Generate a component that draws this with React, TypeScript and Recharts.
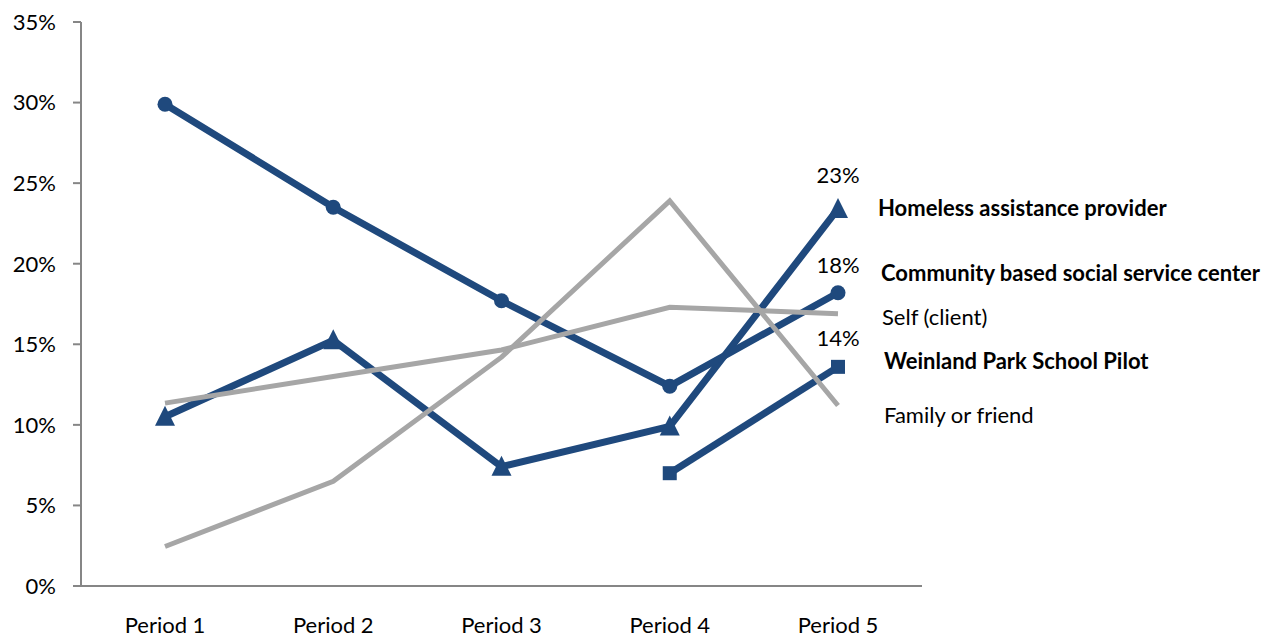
import React from 'react';
import { LineChart, Line, XAxis, YAxis, LabelList } from 'recharts';

const periods = ['Period 1', 'Period 2', 'Period 3', 'Period 4', 'Period 5'];

const homeless = [10.5, 15.25, 7.4, 9.9, 23.4];
const community = [29.9, 23.5, 17.7, 12.4, 18.2];
const selfClient = [11.35, 13.0, 14.65, 17.3, 16.9];
const weinland = [null, null, null, 7.0, 13.6];
const family = [2.45, 6.5, 14.2, 23.9, 11.2];

const yTicks = [0, 5, 10, 15, 20, 25, 30, 35];

const BLUE = '#1F497D';
const GRAY = '#A6A6A6';
const AXIS = '#868686';
const FONT = 'Lato, "Open Sans", sans-serif';

type Shape = 'circle' | 'triangle' | 'square' | 'none';

interface SeriesDef {
  key: string;
  name: string;
  color: string;
  width: number;
  shape: Shape;
  bold: boolean;
  showValue: boolean;
  // label offsets relative to the last point
  nameDx: number;
  nameDy: number;
  valueDy: number;
}

const series: SeriesDef[] = [
  { key: 'homeless', name: 'Homeless assistance provider', color: BLUE, width: 7, shape: 'triangle', bold: true, showValue: true, nameDx: 40, nameDy: 7, valueDy: -26 },
  { key: 'community', name: 'Community based social service center', color: BLUE, width: 7, shape: 'circle', bold: true, showValue: true, nameDx: 43, nameDy: -12, valueDy: -20 },
  { key: 'weinland', name: 'Weinland Park School Pilot', color: BLUE, width: 7, shape: 'square', bold: true, showValue: true, nameDx: 46, nameDy: 2, valueDy: -21 },
  { key: 'self', name: 'Self (client)', color: GRAY, width: 5, shape: 'none', bold: false, showValue: false, nameDx: 44, nameDy: 11, valueDy: 0 },
  { key: 'family', name: 'Family or friend', color: GRAY, width: 5, shape: 'none', bold: false, showValue: false, nameDx: 46, nameDy: 17, valueDy: 0 },
];

const data = periods.map((p, i) => ({
  period: p,
  homeless: homeless[i],
  community: community[i],
  self: selfClient[i],
  weinland: weinland[i],
  family: family[i],
}));

const makeDot = (shape: Shape, color: string) => (props: any) => {
  const { cx, cy, index, value } = props;
  if (value == null || cx == null || cy == null) return <g key={index} />;
  if (shape === 'circle') {
    return <circle key={index} cx={cx} cy={cy} r={7.5} fill={color} />;
  }
  if (shape === 'square') {
    return <rect key={index} x={cx - 7} y={cy - 7} width={14} height={14} fill={color} />;
  }
  if (shape === 'triangle') {
    const s = 10;
    return (
      <polygon
        key={index}
        points={`${cx},${cy - s - 1} ${cx + s},${cy + s - 1} ${cx - s},${cy + s - 1}`}
        fill={color}
      />
    );
  }
  return <g key={index} />;
};

const makeLabel = (s: SeriesDef) => (props: any) => {
  const { x, y, index, value } = props;
  if (index !== periods.length - 1 || value == null) return null;
  return (
    <g>
      {s.showValue && (
        <text x={x} y={y + s.valueDy} textAnchor="middle" fontSize={22} fontFamily={FONT} fill="#000">
          {`${Math.round(value)}%`}
        </text>
      )}
      <text
        x={x + s.nameDx}
        y={y + s.nameDy}
        fontSize={22}
        fontWeight={s.bold ? 700 : 400}
        fontFamily={FONT}
        fill="#000"
      >
        {s.name}
      </text>
    </g>
  );
};

export default function App() {
  return (
    <div style={{ position: 'absolute', left: 0, top: 0, background: '#fff' }}>
      <LineChart width={1279} height={639} data={data} margin={{ top: 22, right: 357, left: 0, bottom: 0 }}>
        <XAxis
          dataKey="period"
          height={53}
          padding={{ left: 84, right: 84 }}
          tickLine={false}
          tickSize={0}
          tickMargin={31}
          axisLine={{ stroke: AXIS, strokeWidth: 2 }}
          tick={{ fill: '#000', fontSize: 22, fontFamily: FONT }}
          interval={0}
        />
        <YAxis
          width={81}
          domain={[0, 35]}
          ticks={yTicks}
          interval={0}
          tickFormatter={(v: number) => `${v}%`}
          tickSize={8}
          tickMargin={17}
          axisLine={{ stroke: AXIS, strokeWidth: 2 }}
          tickLine={{ stroke: AXIS, strokeWidth: 2 }}
          tick={{ fill: '#000', fontSize: 22, fontFamily: FONT }}
        />
        {series.map(s => (
          <Line
            key={s.key}
            dataKey={s.key}
            name={s.name}
            type="linear"
            stroke={s.color}
            strokeWidth={s.width}
            dot={makeDot(s.shape, s.color)}
            activeDot={false}
            isAnimationActive={false}
          >
            <LabelList dataKey={s.key} content={makeLabel(s)} />
          </Line>
        ))}
      </LineChart>
    </div>
  );
}
